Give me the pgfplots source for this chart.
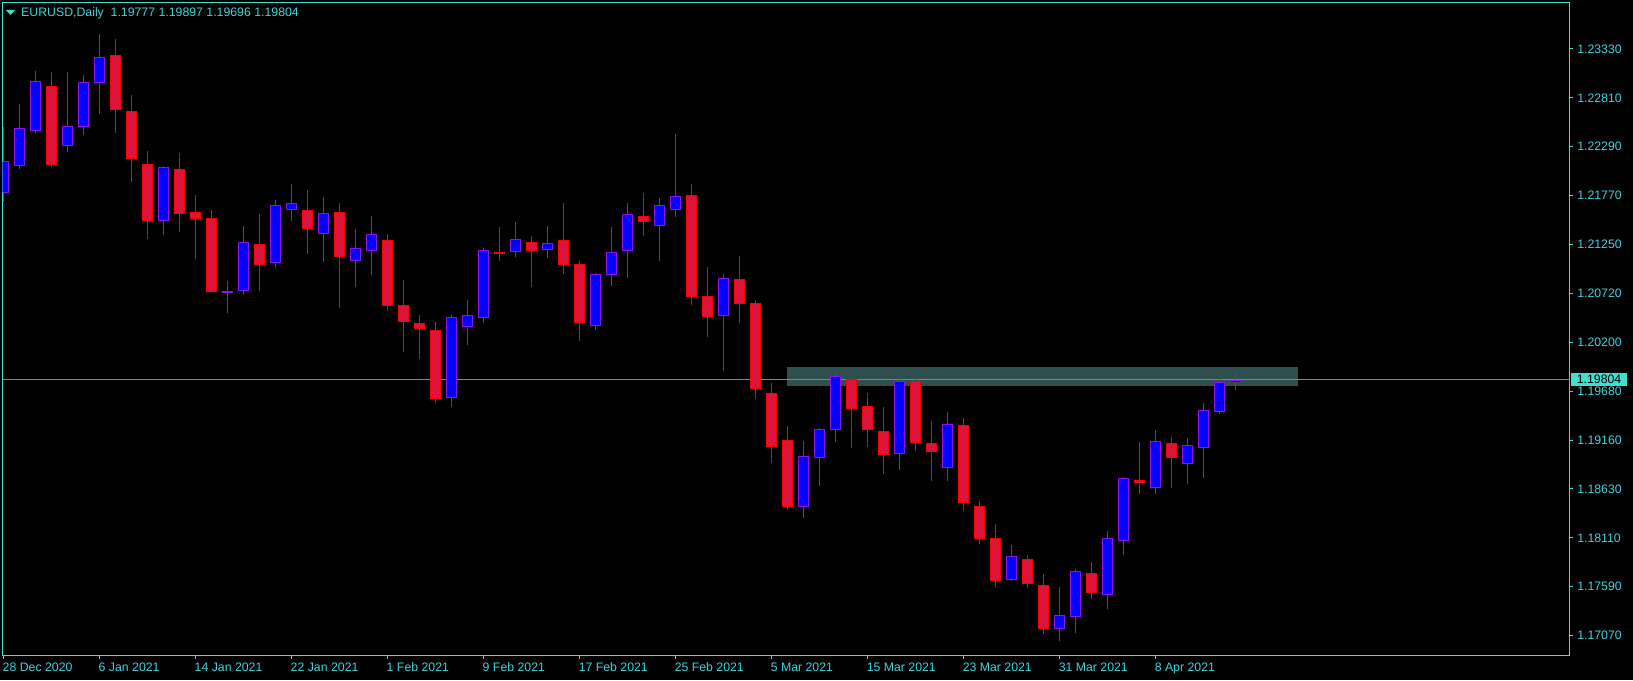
\documentclass[border=0pt]{standalone}
\usepackage{pgfplots}
\pgfplotsset{compat=1.18}
\usepackage{pgfplotstable}
\usepackage{fontspec}
\setmainfont{Liberation Sans}

\definecolor{turq}{HTML}{40E0D0}
\definecolor{ttext}{RGB}{60,212,220}
\definecolor{bullfill}{HTML}{0000FF}
\definecolor{bullline}{RGB}{140,20,235}
\definecolor{bearfill}{HTML}{DC143C}
\definecolor{bearline}{HTML}{FF0000}
\definecolor{zone}{HTML}{2F4F4F}
\definecolor{bidline}{HTML}{778899}

% EURUSD daily, rising candles (close >= open)
\pgfplotstableread{
k o h l c
0 1.21796 1.22501 1.21700 1.22131
1 1.22078 1.22743 1.22053 1.22484
2 1.22452 1.23095 1.22434 1.22985
4 1.22292 1.23085 1.22231 1.22505
5 1.22494 1.23053 1.22412 1.22975
6 1.22964 1.23490 1.22636 1.23241
10 1.21491 1.22078 1.21345 1.22067
14 1.20733 1.20854 1.20516 1.20740
15 1.20744 1.21441 1.20708 1.21267
17 1.21043 1.21719 1.20996 1.21662
18 1.21609 1.21889 1.21494 1.21683
20 1.21352 1.21751 1.21060 1.21577
22 1.21064 1.21409 1.20793 1.21203
23 1.21171 1.21548 1.20921 1.21352
28 1.19602 1.20491 1.19506 1.20467
29 1.20360 1.20651 1.20174 1.20488
30 1.20456 1.21203 1.20409 1.21182
32 1.21160 1.21484 1.21113 1.21299
34 1.21182 1.21441 1.21103 1.21256
37 1.20371 1.20939 1.20334 1.20926
38 1.20915 1.21430 1.20804 1.21160
39 1.21171 1.21687 1.20889 1.21566
41 1.21438 1.21740 1.21071 1.21662
42 1.21609 1.22423 1.21540 1.21758
45 1.20477 1.20932 1.19897 1.20883
50 1.18439 1.19146 1.18328 1.18983
51 1.18962 1.19282 1.18669 1.19271
52 1.19261 1.19875 1.19139 1.19837
56 1.19005 1.19848 1.18840 1.19784
59 1.18855 1.19456 1.18723 1.19325
63 1.17660 1.18037 1.17652 1.17916
66 1.17137 1.17588 1.17012 1.17286
67 1.17265 1.17780 1.17101 1.17756
69 1.17500 1.18186 1.17357 1.18108
70 1.18076 1.18762 1.17933 1.18748
72 1.18642 1.19264 1.18584 1.19143
74 1.18898 1.19178 1.18691 1.19101
75 1.19069 1.19552 1.18755 1.19474
76 1.19453 1.19862 1.19438 1.19773
77 1.19777 1.19897 1.19696 1.19804
}\bull

% falling candles
\pgfplotstableread{
k o h l c
3 1.22932 1.23085 1.22071 1.22089
7 1.23263 1.23437 1.22434 1.22676
8 1.22665 1.22839 1.21911 1.22153
9 1.22100 1.22241 1.21302 1.21491
11 1.22046 1.22220 1.21377 1.21566
12 1.21587 1.21772 1.21089 1.21519
13 1.21523 1.21612 1.20726 1.20733
16 1.21246 1.21569 1.20747 1.21028
19 1.21609 1.21825 1.21142 1.21406
21 1.21587 1.21687 1.20569 1.21107
24 1.21288 1.21356 1.20537 1.20584
25 1.20595 1.20865 1.20100 1.20413
26 1.20403 1.20491 1.20025 1.20339
27 1.20328 1.20416 1.19555 1.19591
31 1.21160 1.21430 1.21071 1.21156
33 1.21267 1.21334 1.20793 1.21171
35 1.21288 1.21687 1.20932 1.21022
36 1.21032 1.21064 1.20217 1.20403
40 1.21545 1.21793 1.21338 1.21481
43 1.21769 1.21889 1.20601 1.20686
44 1.20691 1.21003 1.20260 1.20473
46 1.20872 1.21121 1.20409 1.20605
47 1.20616 1.20651 1.19598 1.19698
48 1.19655 1.19765 1.18915 1.19079
49 1.19154 1.19307 1.18413 1.18439
53 1.19805 1.19869 1.19075 1.19491
54 1.19517 1.19655 1.19086 1.19261
55 1.19250 1.19509 1.18797 1.18994
57 1.19784 1.19869 1.19043 1.19130
58 1.19122 1.19360 1.18723 1.19026
60 1.19314 1.19392 1.18403 1.18488
61 1.18453 1.18503 1.18050 1.18104
62 1.18111 1.18261 1.17592 1.17656
64 1.17884 1.17930 1.17581 1.17624
65 1.17606 1.17727 1.17090 1.17137
68 1.17734 1.17855 1.17463 1.17527
71 1.18727 1.19136 1.18584 1.18695
73 1.19122 1.19189 1.18648 1.18962
}\bear

\pgfplotsset{
  wick/.style={only marks, mark=*, mark size=0pt, mark options={draw=none, fill=none}, forget plot,
    error bars/.cd, y dir=both, y explicit, error mark=none,
    error bar style={#1, line width=1pt}},
  body/.style 2 args={only marks, mark=*, mark size=0pt, mark options={draw=none, fill=none}, forget plot,
    error bars/.cd, y dir=both, y explicit, error mark=none,
    error bar style={#1, line width=#2}},
}

\begin{document}
\fontsize{12.3pt}{14pt}\selectfont
\begin{tikzpicture}
\path[use as bounding box, fill=black] (0,0) rectangle (1633pt,680pt);
\begin{axis}[
  at={(2.5pt,24pt)}, anchor=south west,
  scale only axis, width=1567pt, height=653.4pt,
  xmin=-0.052, xmax=97.886,
  ymin=1.168519, ymax=1.238252,
  axis line style={turq, line width=1pt},
  tick style={turq, line width=1pt},
  tick align=outside, major tick length=3pt,
  tick pos=left, ytick pos=right, yticklabel pos=right,
  xtick={0,6,...,72},
  xticklabels={28 Dec 2020,6 Jan 2021,14 Jan 2021,22 Jan 2021,1 Feb 2021,9 Feb 2021,17 Feb 2021,25 Feb 2021,5 Mar 2021,15 Mar 2021,23 Mar 2021,31 Mar 2021,8 Apr 2021},
  ytick={1.23330,1.22808,1.22287,1.21765,1.21243,1.20722,1.20200,1.19678,1.19157,1.18635,1.18113,1.17592,1.17070},
  yticklabels={1.23330,1.22810,1.22290,1.21770,1.21250,1.20720,1.20200,1.19680,1.19160,1.18630,1.18110,1.17590,1.17070},
  /pgf/number format/assume math mode=true,
  ticklabel style={text=ttext},
  xticklabel style={anchor=north west, inner sep=0pt, xshift=-0.8pt, yshift=-3.4pt},
  yticklabel style={anchor=west, inner sep=0pt, xshift=4.5pt},
]
% resistance zone and bid line
\addplot[fill=zone, draw=none, forget plot] coordinates {(49,1.19737) (80.9,1.19737) (80.9,1.19936) (49,1.19936)} -- cycle;
\addplot[bidline, line width=1pt, forget plot] coordinates {(-1,1.19804) (99,1.19804)};

% wicks
\addplot[wick=bullline] table[x=k, y expr=(\thisrow{h}+\thisrow{l})/2, y error expr=(\thisrow{h}-\thisrow{l})/2] {\bull};
\addplot[wick=bearline] table[x=k, y expr=(\thisrow{h}+\thisrow{l})/2, y error expr=(\thisrow{h}-\thisrow{l})/2] {\bear};

% bodies: border then fill
\addplot[body={bullline}{10.7pt}] table[x=k, y expr=(\thisrow{o}+\thisrow{c})/2, y error expr={max(abs(\thisrow{c}-\thisrow{o})/2,0.000107)}] {\bull};
\addplot[body={bearline}{10.7pt}] table[x=k, y expr=(\thisrow{o}+\thisrow{c})/2, y error expr={max(abs(\thisrow{c}-\thisrow{o})/2,0.000107)}] {\bear};
\addplot[body={bullfill}{8.7pt}] table[x=k, y expr=(\thisrow{o}+\thisrow{c})/2, y error expr={max(abs(\thisrow{c}-\thisrow{o})/2-0.000107,0)}] {\bull};
\addplot[body={bearfill}{8.7pt}] table[x=k, y expr=(\thisrow{o}+\thisrow{c})/2, y error expr={max(abs(\thisrow{c}-\thisrow{o})/2-0.000107,0)}] {\bear};

\coordinate (bid) at (axis cs:97.886,1.19804);
\end{axis}
\node[anchor=west, fill=turq, text=black, inner sep=0pt, minimum width=56.3pt, minimum height=13.4pt] at ([xshift=1.2pt]bid) {1.19804};
\fill[turq] (6pt,670pt) -- (15pt,670pt) -- (10.5pt,665pt) -- cycle;
\node[anchor=base west, inner sep=0pt, text=ttext] at (21pt,663.3pt) {EURUSD,Daily\ \ 1.19777 1.19897 1.19696 1.19804};
\end{tikzpicture}
\end{document}
